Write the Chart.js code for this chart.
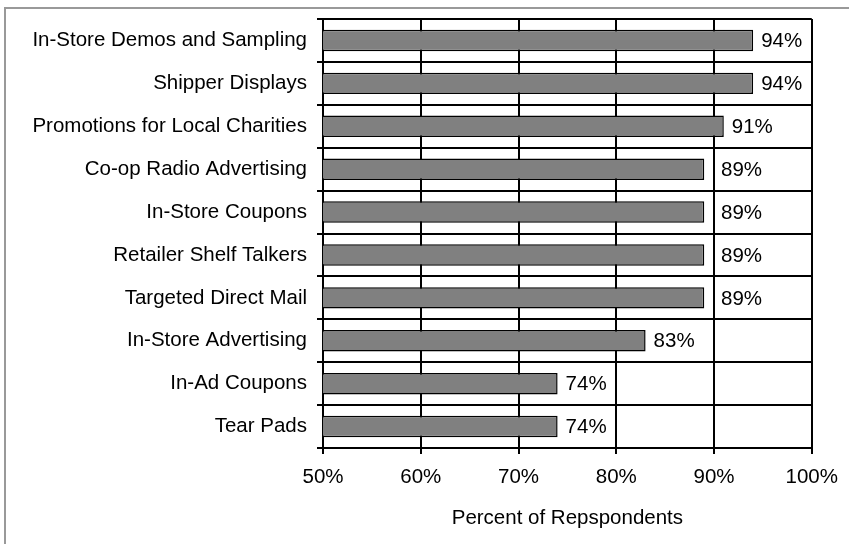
<!DOCTYPE html>
<html>
<head>
<meta charset="utf-8">
<script src="https://cdn.jsdelivr.net/npm/chart.js@4.4.1/dist/chart.umd.min.js"></script>
<style>
  body { margin: 0; background: #fff; }
  #wrap { position: relative; width: 849px; height: 544px; overflow: hidden; }
  #frame { position: absolute; left: 4px; top: 7px; width: 900px; height: 600px;
           border-left: 2px solid #999; border-top: 2px solid #999; }
  canvas { position: absolute; left: 0; top: 0; }
</style>
</head>
<body>
<div id="wrap">
  <div id="frame"></div>
  <canvas id="chart" width="849" height="544"></canvas>
</div>
<script>
const categories = [
  "In-Store Demos and Sampling",
  "Shipper Displays",
  "Promotions for Local Charities",
  "Co-op Radio Advertising",
  "In-Store Coupons",
  "Retailer Shelf Talkers",
  "Targeted Direct Mail",
  "In-Store Advertising",
  "In-Ad Coupons",
  "Tear Pads"
];
const percents = [94, 94, 91, 89, 89, 89, 89, 83, 74, 74];
const xTicks = [50, 60, 70, 80, 90, 100];

const font = { family: "Arial, 'Liberation Sans', sans-serif", size: 20.5 };

// value labels to the right of each bar, nudged past a gridline if they'd sit on it
const barLabels = {
  id: "barLabels",
  afterDatasetsDraw(chart) {
    const ctx = chart.ctx;
    const xScale = chart.scales.x;
    const meta = chart.getDatasetMeta(0);
    const lines = xTicks.map(v => xScale.getPixelForValue(v));
    ctx.save();
    ctx.font = font.size + "px " + font.family;
    ctx.fillStyle = "#000";
    ctx.textAlign = "left";
    ctx.textBaseline = "middle";
    meta.data.forEach((bar, i) => {
      let x = bar.x + 8;
      lines.forEach(gx => {
        if (gx > bar.x + 2 && gx < x + 6) x = gx + 7;
      });
      ctx.fillText(percents[i] + "%", x, bar.y + 1);
    });
    ctx.restore();
  }
};

new Chart(document.getElementById("chart"), {
  type: "bar",
  data: {
    labels: categories,
    datasets: [{
      data: percents,
      backgroundColor: "#808080",
      borderColor: "#000",
      borderWidth: 1.5,
      borderSkipped: false,
      barPercentage: 0.5,
      categoryPercentage: 1
    }]
  },
  options: {
    indexAxis: "y",
    responsive: false,
    animation: false,
    layout: { padding: { top: 19, right: 31, left: 0, bottom: 0 } },
    plugins: { legend: { display: false }, tooltip: { enabled: false } },
    scales: {
      x: {
        min: 50,
        max: 100,
        afterBuildTicks(axis) { axis.ticks = xTicks.map(v => ({ value: v })); },
        afterFit(axis) { axis.height = 96; },
        ticks: { color: "#000", font, padding: 11, maxRotation: 0,
                 callback: v => v + "%" },
        grid: { color: "#000", lineWidth: 2, tickLength: 6 },
        border: { color: "#000", width: 2 },
        title: { display: true, text: "Percent of Repspondents", color: "#000",
                 font, padding: { top: 4, bottom: 13 } }
      },
      y: {
        afterFit(axis) {
          axis.width = 323;
          axis.paddingTop = 0;
          axis.paddingBottom = 0;
        },
        ticks: { color: "#000", font, padding: 10 },
        grid: { color: "#000", lineWidth: 2, offset: true, tickLength: 6 },
        border: { color: "#000", width: 2 }
      }
    }
  },
  plugins: [barLabels]
});
</script>
</body>
</html>
